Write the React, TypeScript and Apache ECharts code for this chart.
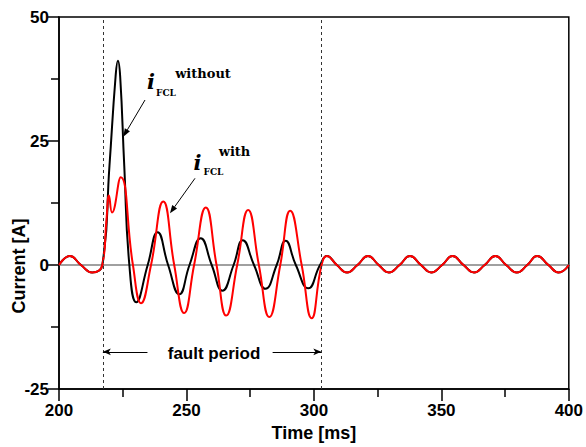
import React, { useEffect, useRef } from "react";
import * as echarts from "echarts";

// ---- data (time in ms, current in A) ----
const xRange = [200, 400];
const yRange = [-25, 50];
const xInterval = 50;
const yInterval = 25;

const faultStart = 217.2;
const faultEnd = 302.9;

const preFault: [number, number][] = [
  [200, 0], [204.3, 1.8], [208.6, 0], [213, -1.5], [217, 0],
];

const faultWithout: [number, number][] = [
  [219.8, 20], [222.2, 38], [223.1, 41.2], [224, 38], [225.6, 20], [227.6, 0],
  [230.3, -7.5], [234.8, 0], [238.7, 6.6], [242.8, 0], [247.2, -5.9], [251.2, 0],
  [255.6, 5.4], [259.9, 0], [264.1, -5.2], [268.5, 0], [272.1, 5.0], [276.5, 0],
  [281, -4.8], [285.4, 0], [288.9, 4.9], [292.9, 0], [297.8, -4.7], [302.4, 0],
];

const faultWith: [number, number][] = [
  [218.6, 9], [219.6, 14], [220.8, 10.6], [224.2, 17.7], [229, 0],
  [232.2, -7.7], [236.1, 0], [240.9, 12.8], [245.2, 0], [249.1, -9.7], [253, 0],
  [257.6, 11.6], [261.8, 0], [265.6, -10.2], [269.9, 0], [274.2, 11.1], [278.4, 0],
  [282.5, -10.5], [286.8, 0], [290.7, 10.95], [295.2, 0], [299.1, -10.75], [303, 0],
];

const postFault: [number, number][] = [
  [305.1, 1.8], [309, 0], [313, -1.5], [317.1, 0], [321.2, 1.8], [325.4, 0],
  [329.4, -1.5], [333.6, 0], [337.7, 1.8], [342, 0], [346, -1.5], [350.3, 0],
  [354.4, 1.8], [358.7, 0], [362.8, -1.5], [367, 0], [371.2, 1.8], [375.4, 0],
  [379.6, -1.5], [383.7, 0], [387.6, 1.8], [392, 0], [396, -1.5], [400, 0],
];

const zeroLine: [number, number][] = [[200, 0], [400, 0]];

const faultArrowY = -17.5;
const faultArrowLeftFrom = 234.7;
const faultArrowRightFrom = 283.8;

const SANS = '"Liberation Sans", Arial, sans-serif';
const SERIF = '"DejaVu Serif", serif';

function arrow(x1: number, y1: number, x2: number, y2: number, head = 8, half = 3) {
  const dx = x2 - x1;
  const dy = y2 - y1;
  const len = Math.sqrt(dx * dx + dy * dy);
  const ux = dx / len;
  const uy = dy / len;
  const nx = -uy;
  const ny = ux;
  const bx = x2 - head * ux;
  const by = y2 - head * uy;
  return [
    {
      type: "line",
      shape: { x1, y1, x2: bx, y2: by },
      style: { stroke: "#000", lineWidth: 1 },
    },
    {
      type: "polygon",
      shape: {
        points: [
          [x2, y2],
          [bx + half * nx, by + half * ny],
          [bx - half * nx, by - half * ny],
        ],
      },
      style: { fill: "#000" },
    },
  ];
}

function txt(text: string, x: number, y: number, size: number, family: string, weight = "bold", fontStyle = "normal", rotation = 0) {
  return {
    type: "text",
    x,
    y,
    rotation,
    style: {
      text,
      fill: "#000",
      fontSize: size,
      fontFamily: family,
      fontWeight: weight,
      fontStyle,
      align: "center",
      verticalAlign: "middle",
    },
  };
}

export default function App() {
  const ref = useRef<HTMLDivElement>(null);

  useEffect(() => {
    if (!ref.current) return;
    const chart = echarts.init(ref.current, undefined, { renderer: "svg" });

    const axisText = { fontFamily: SANS, fontWeight: "bold", fontSize: 17, color: "#000" };

    const option: any = {
      animation: false,
      grid: {
        left: 59, right: 14, top: 17, bottom: 58,
        show: true, borderColor: "#000", borderWidth: 1.5,
      },
      xAxis: {
        type: "value",
        min: xRange[0], max: xRange[1], interval: xInterval,
        axisLine: { show: true, onZero: false, lineStyle: { color: "#000", width: 1.5 } },
        axisTick: { show: true, length: 12, lineStyle: { color: "#000", width: 1.5 } },
        minorTick: { show: true, splitNumber: 2, length: 8, lineStyle: { color: "#000", width: 1.5 } },
        splitLine: { show: false },
        axisLabel: { ...axisText, margin: 13 },
        name: "Time [ms]",
        nameLocation: "middle",
        nameGap: 33,
        nameTextStyle: { ...axisText, fontSize: 18 },
      },
      yAxis: {
        type: "value",
        min: yRange[0], max: yRange[1], interval: yInterval,
        axisLine: { show: true, onZero: false, lineStyle: { color: "#000", width: 1.5 } },
        axisTick: { show: true, length: 11, lineStyle: { color: "#000", width: 1.5 } },
        minorTick: { show: true, splitNumber: 2, length: 8, lineStyle: { color: "#000", width: 1.5 } },
        splitLine: { show: false },
        axisLabel: { ...axisText, margin: 10 },
      },
      series: [
        {
          type: "line",
          data: zeroLine,
          symbol: "none",
          silent: true,
          lineStyle: { color: "#808080", width: 1.5 },
          z: 1,
          markLine: {
            silent: true,
            symbol: ["none", "none"],
            label: { show: false },
            lineStyle: { color: "#333", width: 1, type: [3, 3] },
            data: [
              { xAxis: faultStart },
              { xAxis: faultEnd },
              [
                { coord: [faultArrowLeftFrom, faultArrowY], symbol: "none", lineStyle: { type: "solid", color: "#000", width: 1 } },
                { coord: [faultStart, faultArrowY], symbol: "arrow", symbolSize: [5, 8] },
              ],
              [
                { coord: [faultArrowRightFrom, faultArrowY], symbol: "none", lineStyle: { type: "solid", color: "#000", width: 1 } },
                { coord: [faultEnd, faultArrowY], symbol: "arrow", symbolSize: [5, 8] },
              ],
            ],
          },
        },
        {
          name: "without FCL",
          type: "line",
          data: [...preFault, ...faultWithout, ...postFault],
          symbol: "none",
          smooth: 0.5,
          lineStyle: { color: "#000", width: 2 },
          z: 2,
        },
        {
          name: "with FCL",
          type: "line",
          data: [...preFault, ...faultWith, ...postFault],
          symbol: "none",
          smooth: 0.5,
          lineStyle: { color: "#ff0000", width: 2 },
          z: 3,
        },
      ],
      graphic: [
        txt("Current [A]", 19, 266, 18, SANS, "bold", "normal", Math.PI / 2),
        txt("fault period", 214, 353, 17, SANS),
        txt("i", 151, 81, 21, SERIF, "bold", "italic"),
        txt("without", 203, 73, 13, SERIF),
        txt("FCL", 166, 92.5, 9, SERIF),
        ...arrow(145, 100, 123.3, 136.7),
        txt("i", 197.5, 162, 21, SERIF, "bold", "italic"),
        txt("with", 234.5, 151.5, 13, SERIF),
        txt("FCL", 213.5, 171.5, 9, SERIF),
        ...arrow(195, 178.3, 170, 213.3),
      ],
    };

    chart.setOption(option);
    return () => chart.dispose();
  }, []);

  return (
    <div
      ref={ref}
      style={{ position: "fixed", left: 0, top: 0, width: 586, height: 447, background: "#fff" }}
    />
  );
}
